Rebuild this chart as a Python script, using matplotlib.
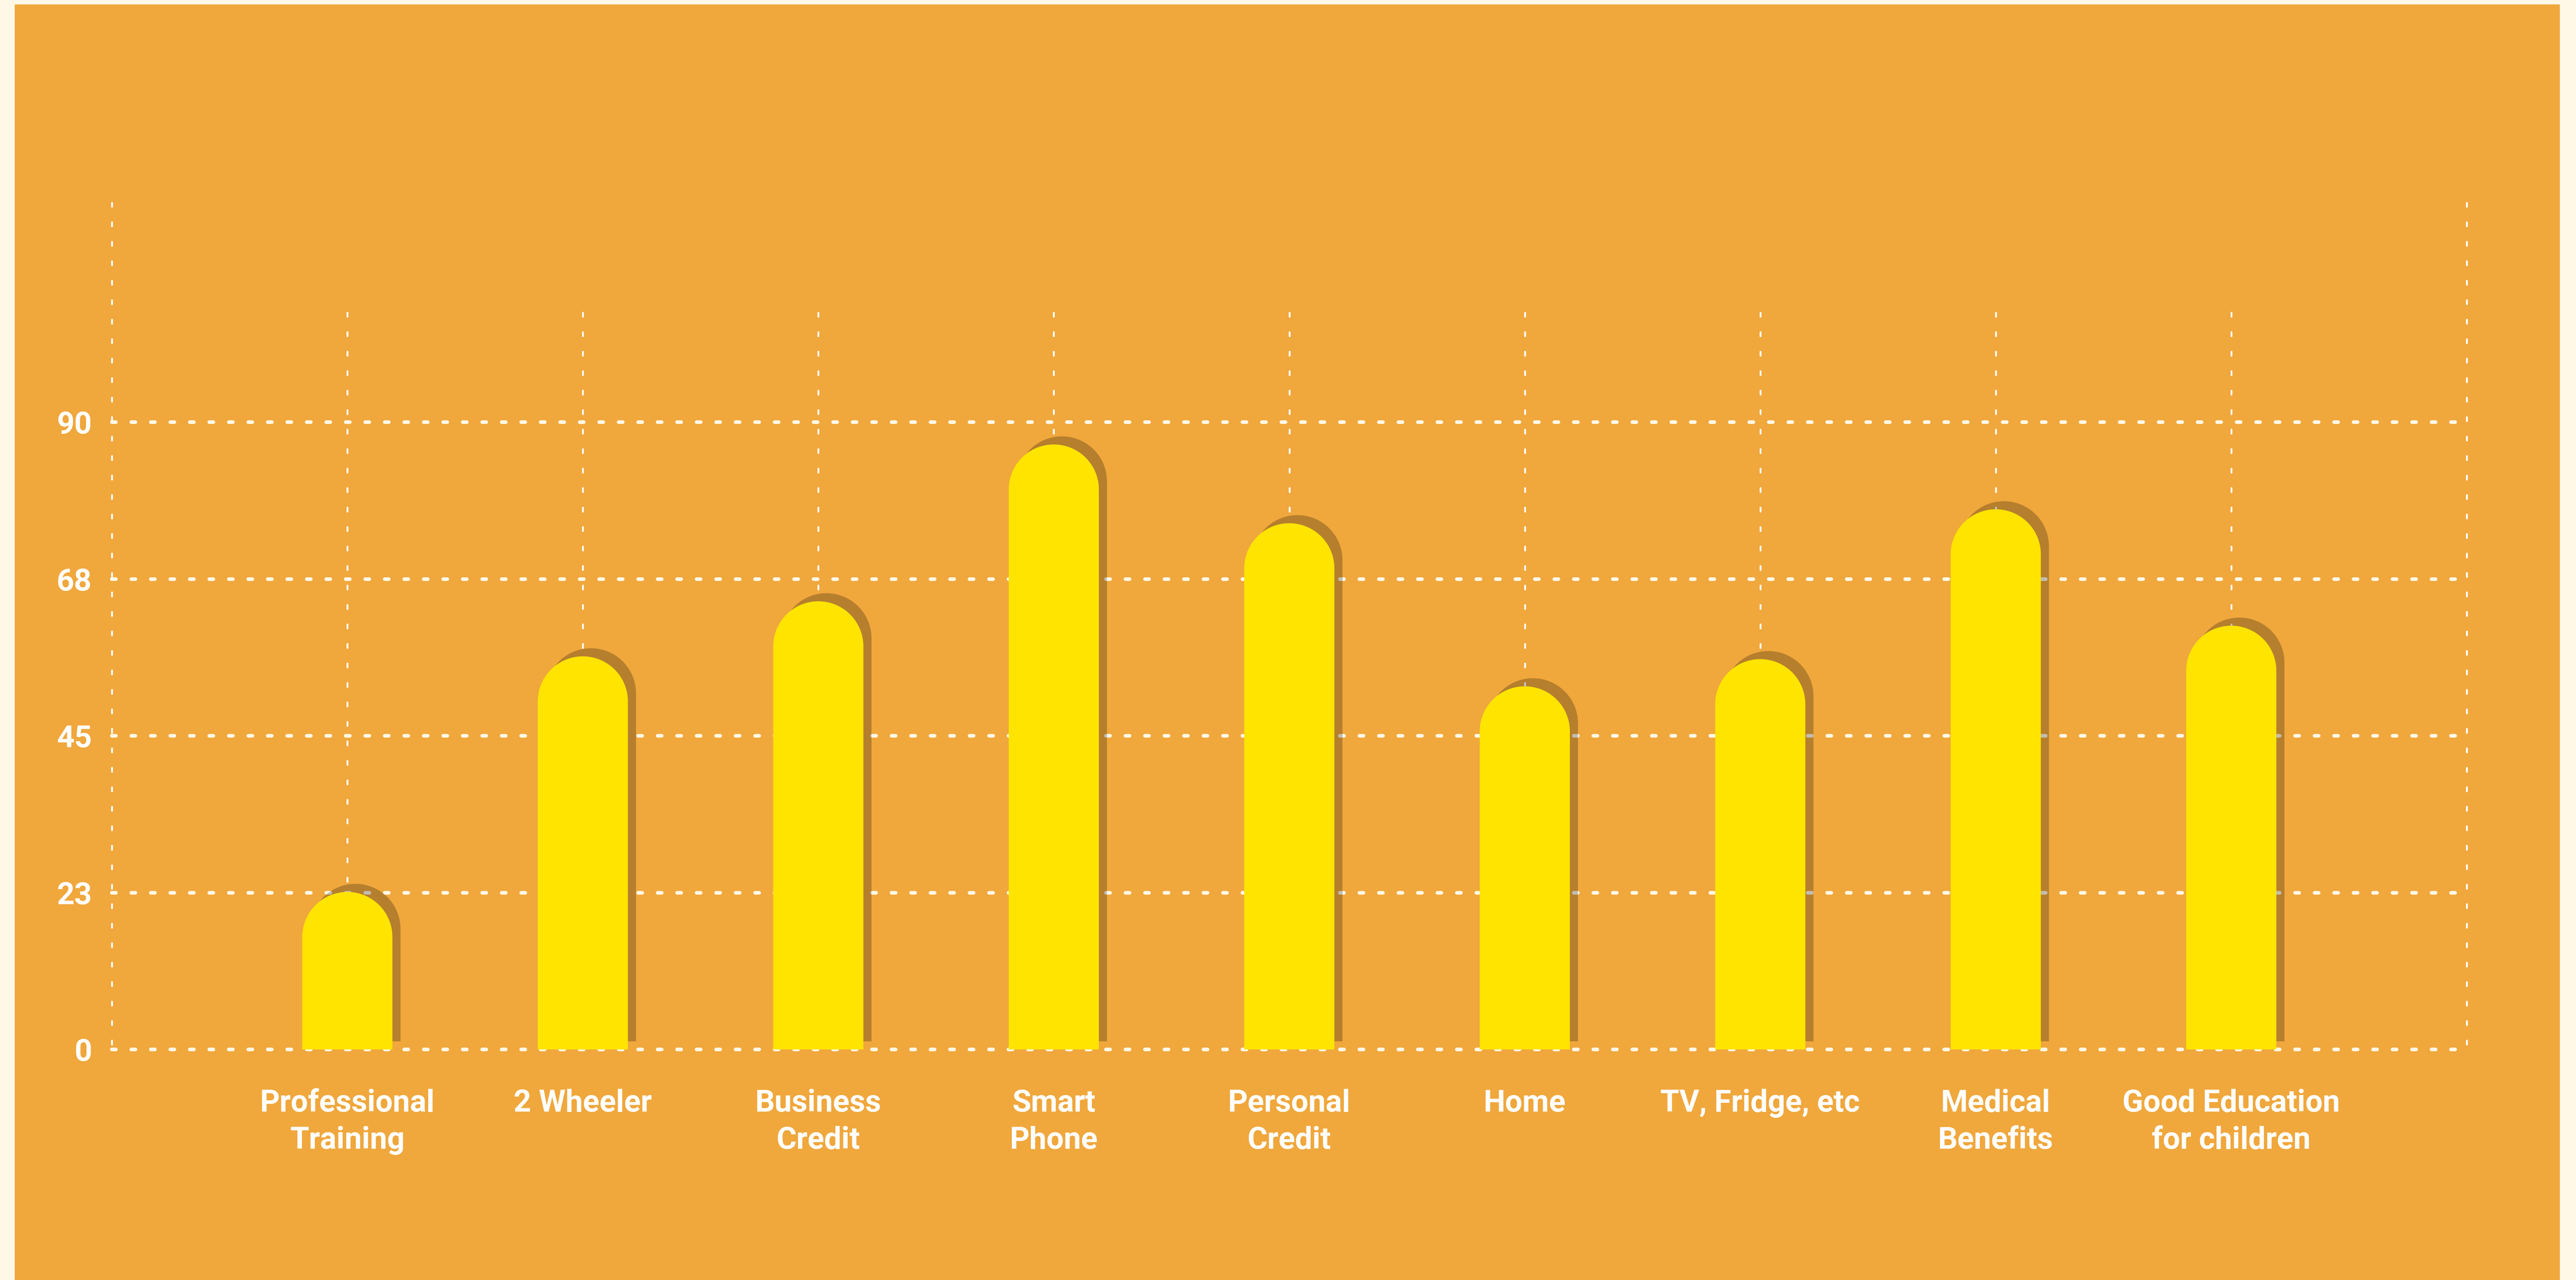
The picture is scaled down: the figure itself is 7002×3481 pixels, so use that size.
import numpy as np
import matplotlib
matplotlib.use("Agg")
import matplotlib.pyplot as plt
from matplotlib.path import Path
from matplotlib.patches import PathPatch, Rectangle
import matplotlib.patheffects as pe

# Что люди хотят получить (значения со столбиков)
categories = ["Professional\nTraining", "2 Wheeler", "Business\nCredit", "Smart\nPhone",
              "Personal\nCredit", "Home", "TV, Fridge, etc", "Medical\nBenefits",
              "Good Education\nfor children"]
values = [22.6, 56.4, 64.3, 86.8, 75.5, 52.1, 56.0, 77.5, 60.8]
yticks = [0, 22.5, 45, 67.5, 90]
ytick_labels = ["0", "23", "45", "68", "90"]

# Цвета
cream = "#FFF8E6"
orange = "#F0A73C"
yellow = "#FFE400"

plt.rcParams['font.family'] = ['Roboto', 'DejaVu Sans']
plt.rcParams['lines.scale_dashes'] = False

fig = plt.figure(figsize=(14.0041, 6.9621), dpi=500, facecolor=cream)
# оранжевая подложка (под осями)
fig.add_artist(Rectangle((40 / 7002, 0), (6958 - 40) / 7002, (3481 - 12) / 3481,
                         transform=fig.transFigure, facecolor=orange,
                         edgecolor='none', zorder=-5))

ax = fig.add_axes([304 / 7002, (3481 - 2854) / 3481, (6705 - 304) / 7002, (2854 - 551) / 3481])
ax.set_facecolor('none')
ax.set_xlim(-1, 9)
ax.set_ylim(0, 121.5)
for s in ax.spines.values():
    s.set_visible(False)

n = len(categories)
x = np.arange(n)

# пунктирная сетка
dash = (0, (1.58, 6.05))
for t in yticks:
    ax.plot([-1, 9], [t, t], color=cream, lw=1.44, linestyle=dash,
            dash_capstyle='round', clip_on=False, zorder=1)
for xe in [-1, 9]:
    ax.plot([xe, xe], [121.5, 0], color='white', lw=0.72, linestyle=dash,
            dash_capstyle='round', clip_on=False, zorder=1)
for xi in x:
    ax.plot([xi, xi], [105.7, 0], color='white', lw=0.72, linestyle=dash,
            dash_capstyle='round', clip_on=False, zorder=1)

# столбики со скруглённым верхом
fig.canvas.draw()
bb = ax.get_window_extent()
px_x = bb.width / 10
px_y = bb.height / 121.5
hw = 0.1914
ry = hw * px_x / px_y
shadow = [pe.SimplePatchShadow(offset=(3.17, 3.17), shadow_rgbFace='black', alpha=0.24),
          pe.Normal()]
for xi, v in zip(x, values):
    t = np.linspace(np.pi, 0, 60)
    arc = np.column_stack([xi + hw * np.cos(t), v - ry + ry * np.sin(t)])
    verts = np.vstack([[xi - hw, 0], arc, [xi + hw, 0], [xi - hw, 0]])
    codes = [Path.MOVETO] + [Path.LINETO] * (len(verts) - 2) + [Path.CLOSEPOLY]
    patch = PathPatch(Path(verts, codes), facecolor=yellow, edgecolor='none',
                      zorder=3, clip_on=False)
    patch.set_path_effects(shadow)
    ax.add_patch(patch)

# подписи категорий
for xi, name in zip(x, categories):
    for k, line in enumerate(name.split("\n")):
        ax.text(xi, -8.92 - k * 5.33, line, ha='center', va='baseline',
                fontsize=12, fontweight='bold', color='white', clip_on=False)

ax.set_xticks([])
ax.set_yticks(yticks, ytick_labels)
ax.tick_params(axis='y', length=0, pad=7.8, labelsize=12, labelcolor='white')
for lab in ax.get_yticklabels():
    lab.set_fontweight('bold')

fig.savefig("out.png", dpi=500, facecolor=cream)
